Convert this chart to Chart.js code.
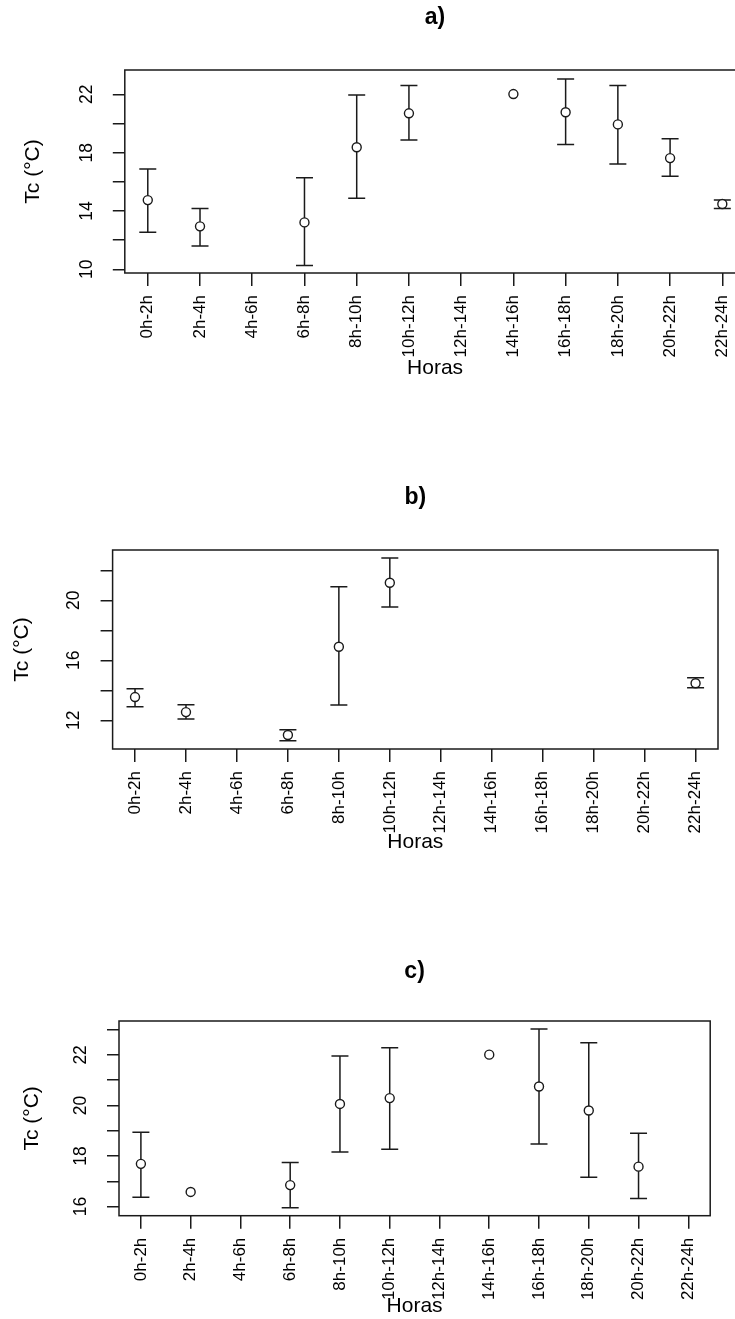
<!DOCTYPE html>
<html>
<head>
<meta charset="utf-8">
<script src="https://cdn.jsdelivr.net/npm/chart.js@4.4.0/dist/chart.umd.min.js"></script>
<style>
html,body{margin:0;padding:0;background:#fff;}
body{width:735px;height:1319px;overflow:hidden;position:relative;}
canvas{position:absolute;left:0;}
</style>
</head>
<body>
<canvas id="ca" width="760" height="400" style="top:0px;width:760px;height:400px"></canvas>
<canvas id="cb" width="760" height="420" style="top:460px;width:760px;height:420px"></canvas>
<canvas id="cc" width="760" height="389" style="top:930px;width:760px;height:389px"></canvas>
<script>
// ---- data ----
const categories = ['0h-2h','2h-4h','4h-6h','6h-8h','8h-10h','10h-12h','12h-14h','14h-16h','16h-18h','18h-20h','20h-22h','22h-24h'];

const aMean  = [14.75, 12.95, null, 13.22, 18.37, 20.70, null, 22.02, 20.77, 19.94, 17.63, 14.48];
const aUpper = [16.88, 14.18, null, 16.28, 21.95, 22.60, null, null, 23.05, 22.60, 18.96, 14.75];
const aLower = [12.54, 11.60, null, 10.27, 14.87, 18.87, null, null, 18.57, 17.22, 16.38, 14.18];

const bMean  = [13.55, 12.55, null, 11.02, 16.90, 21.17, null, null, null, null, null, 14.47];
const bUpper = [14.10, 13.04, null, 11.37, 20.90, 22.82, null, null, null, null, null, 14.84];
const bLower = [12.90, 12.09, null, 10.64, 13.02, 19.55, null, null, null, null, null, 14.17];

const cMean  = [17.69, 16.58, null, 16.85, 20.06, 20.29, null, 22.01, 20.75, 19.80, 17.58, null];
const cUpper = [18.94, null, null, 17.74, 21.96, 22.28, null, null, 23.02, 22.48, 18.90, null];
const cLower = [16.37, null, null, 15.95, 18.16, 18.27, null, null, 18.48, 17.16, 16.32, null];

const aYTicks = [10, 12, 14, 16, 18, 20, 22];
const aYLabels = [10, 14, 18, 22];
const bYTicks = [12, 14, 16, 18, 20, 22];
const bYLabels = [12, 16, 20];
const cYTicks = [16, 17, 18, 19, 20, 21, 22, 23];
const cYLabels = [16, 18, 20, 22];

const panelTitles = ['a)', 'b)', 'c)'];
const xTitle = 'Horas';
const yTitle = 'Tc (°C)';

// ---- drawing ----
const FONT = "'Liberation Sans', Arial, sans-serif";
const INK = '#1a1a1a';

function makePanel(id, title, mean, upper, lower, yTicks, yLabels, yMin, yMax, g) {
  const canvas = document.getElementById(id);
  const W = canvas.width, H = canvas.height;
  const xTitleSize = 21, xLH = xTitleSize * 1.2;
  const scaleBottom = g.horasY + xLH / 2;
  const xH = scaleBottom - g.bottom;
  const yTitleSize = 21, yLH = yTitleSize * 1.2;

  const plugin = {
    id: 'panel_' + id,
    beforeDatasetsDraw(chart) {
      const {ctx, scales: {x, y}} = chart;
      ctx.save();
      ctx.strokeStyle = INK;
      ctx.lineWidth = 1.5;
      for (let i = 0; i < mean.length; i++) {
        if (upper[i] == null || lower[i] == null) continue;
        const px = x.getPixelForValue(i + 1);
        const pu = y.getPixelForValue(upper[i]);
        const pl = y.getPixelForValue(lower[i]);
        ctx.beginPath();
        ctx.moveTo(px, pu); ctx.lineTo(px, pl);
        ctx.moveTo(px - 8.5, pu); ctx.lineTo(px + 8.5, pu);
        ctx.moveTo(px - 8.5, pl); ctx.lineTo(px + 8.5, pl);
        ctx.stroke();
      }
      ctx.restore();
    },
    afterDraw(chart) {
      const {ctx, chartArea: a, scales: {y}} = chart;
      ctx.save();
      // box
      ctx.strokeStyle = INK;
      ctx.lineWidth = 1.5;
      ctx.strokeRect(a.left, a.top, a.right - a.left, a.bottom - a.top);
      // title
      ctx.fillStyle = '#000';
      ctx.font = 'bold 23px ' + FONT;
      ctx.textAlign = 'center';
      ctx.textBaseline = 'middle';
      ctx.fillText(title, (a.left + a.right) / 2, g.titleY);
      // rotated y tick labels
      ctx.font = '17.5px ' + FONT;
      for (const v of yLabels) {
        const py = y.getPixelForValue(v);
        ctx.save();
        ctx.translate(a.left - 38, py);
        ctx.rotate(-Math.PI / 2);
        ctx.textAlign = 'center';
        ctx.textBaseline = 'middle';
        ctx.fillText(String(v), 0, 0);
        ctx.restore();
      }
      ctx.restore();
    }
  };

  const pts = [];
  mean.forEach((v, i) => { if (v != null) pts.push({x: i + 1, y: v}); });

  return new Chart(canvas, {
    type: 'scatter',
    data: {
      datasets: [{
        data: pts,
        showLine: false,
        pointRadius: 4.5,
        pointHoverRadius: 4.5,
        pointBorderWidth: 1.4,
        pointBackgroundColor: '#fff',
        pointBorderColor: INK
      }]
    },
    options: {
      responsive: false,
      animation: false,
      devicePixelRatio: 1,
      events: [],
      layout: {padding: {left: 0, top: g.top, right: W - g.right, bottom: H - scaleBottom}},
      plugins: {legend: {display: false}, tooltip: {enabled: false}, title: {display: false}},
      scales: {
        x: {
          type: 'linear',
          bounds: 'data',
          min: 0.56,
          max: 12.44,
          afterBuildTicks: s => { s.ticks = categories.map((_, i) => ({value: i + 1})); },
          afterFit: s => { s.height = xH; },
          ticks: {
            autoSkip: false,
            minRotation: 90,
            maxRotation: 90,
            padding: 9,
            color: '#000',
            font: {family: FONT, size: 17},
            callback: v => categories[Math.round(v) - 1] ?? ''
          },
          grid: {display: true, drawOnChartArea: false, drawTicks: true, tickLength: 13, color: INK, lineWidth: 1.5},
          border: {display: false},
          title: {display: true, text: xTitle, color: '#000', font: {family: FONT, size: xTitleSize}, padding: {top: 0, bottom: 0}}
        },
        y: {
          type: 'linear',
          bounds: 'data',
          min: yMin,
          max: yMax,
          afterBuildTicks: s => { s.ticks = yTicks.map(v => ({value: v})); },
          afterFit: s => { s.width = g.left; },
          ticks: {display: false},
          grid: {display: true, drawOnChartArea: false, drawTicks: true, tickLength: 12, color: INK, lineWidth: 1.5},
          border: {display: false},
          title: {display: true, text: yTitle, color: '#000', font: {family: FONT, size: yTitleSize}, padding: {top: g.yTitleX - yLH / 2, bottom: 0}}
        }
      }
    },
    plugins: [plugin]
  });
}

// geometry relative to each canvas
makePanel('ca', panelTitles[0], aMean, aUpper, aLower, aYTicks, aYLabels, 9.75, 23.67,
  {top: 70, bottom: 273, left: 124.8, right: 745.3, titleY: 18, horasY: 368, yTitleX: 33});
makePanel('cb', panelTitles[1], bMean, bUpper, bLower, bYTicks, bYLabels, 10.09, 23.35,
  {top: 90, bottom: 289, left: 112.6, right: 718, titleY: 38, horasY: 382, yTitleX: 22});
makePanel('cc', panelTitles[2], cMean, cUpper, cLower, cYTicks, cYLabels, 15.64, 23.34,
  {top: 91, bottom: 285.7, left: 119, right: 710.2, titleY: 42, horasY: 376, yTitleX: 32});
</script>
</body>
</html>
